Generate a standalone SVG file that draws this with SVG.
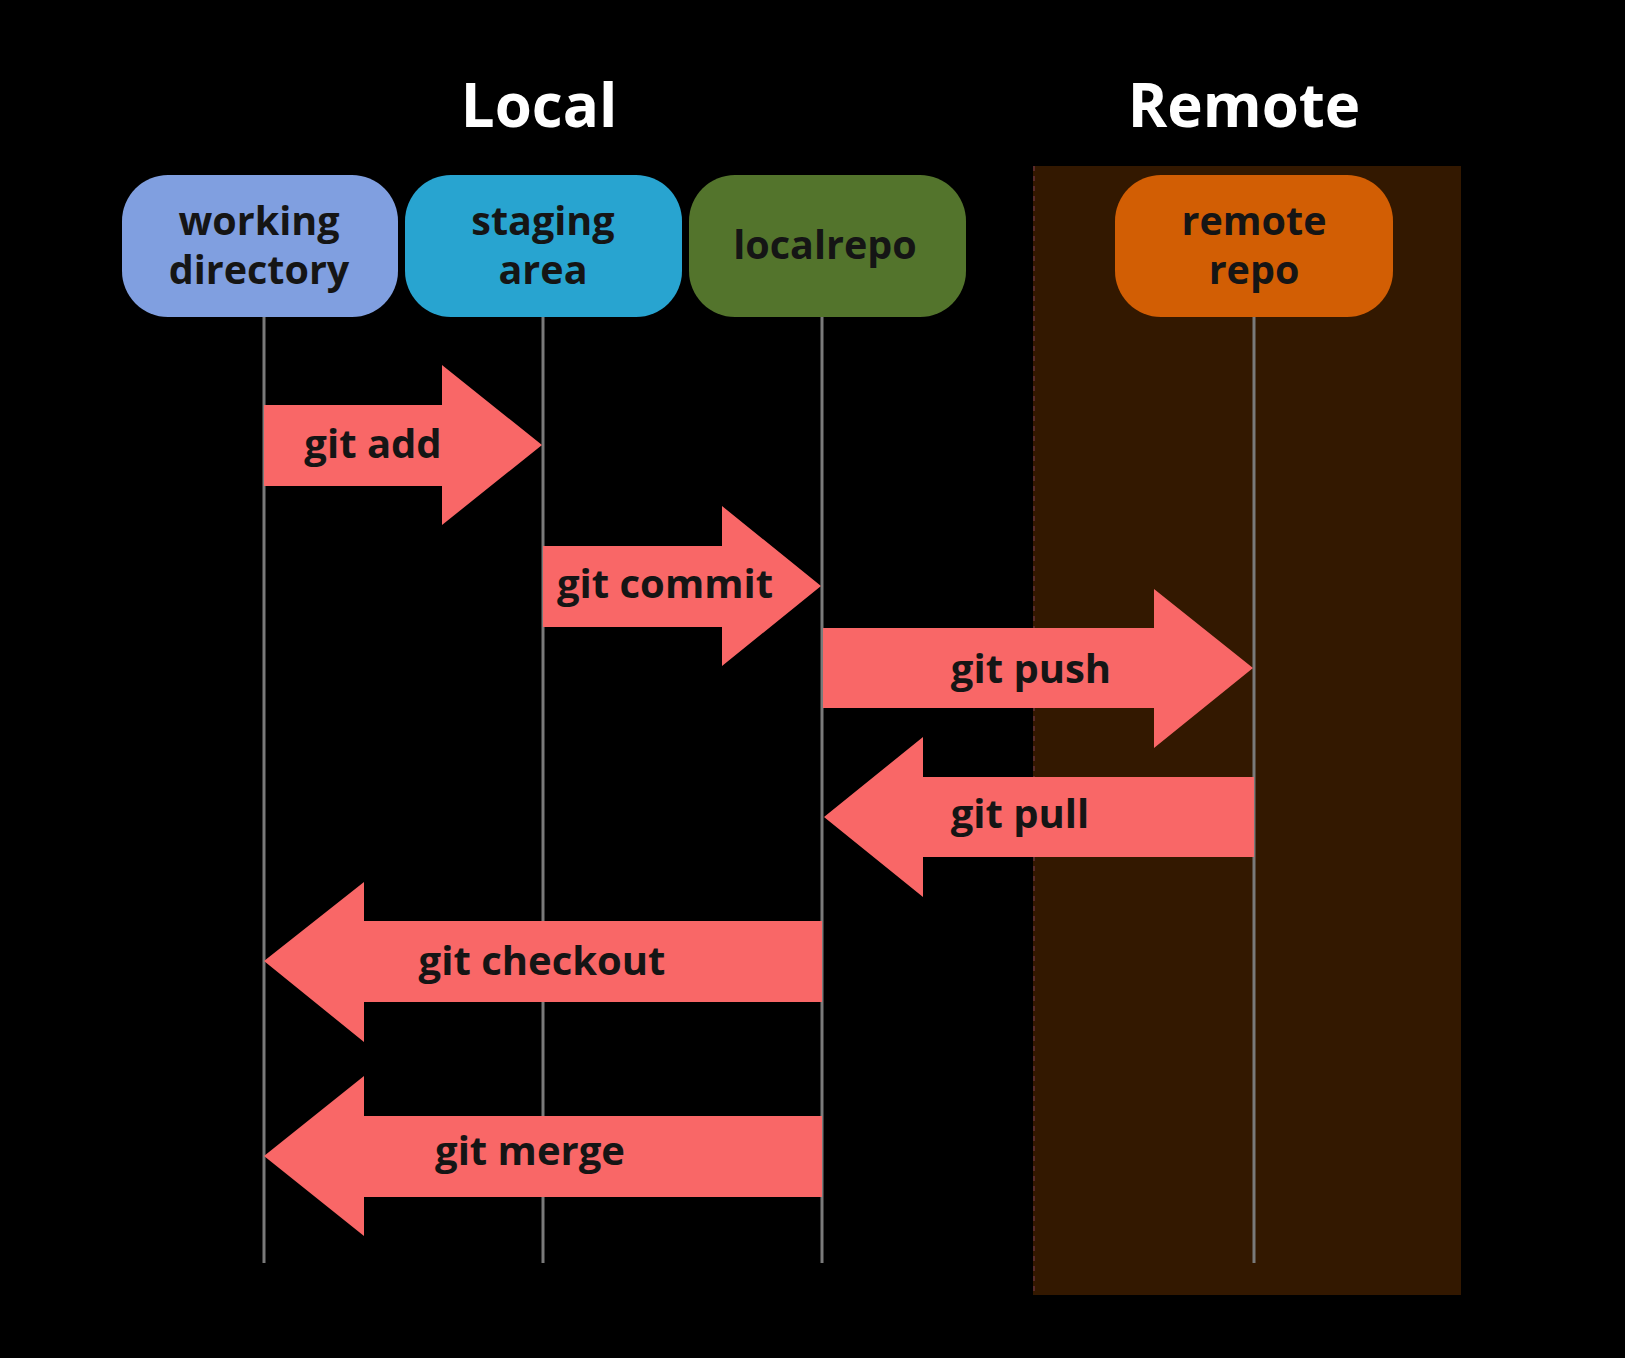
<svg xmlns="http://www.w3.org/2000/svg" width="1625" height="1358" viewBox="0 0 1625 1358">
  <style>
    .title { font-family: "Open Sans", "Noto Sans", "Liberation Sans", sans-serif; font-weight: 700; font-size: 60px; fill: #ffffff; text-anchor: middle; }
    .ntext { font-family: "Open Sans", "Noto Sans", "Liberation Sans", sans-serif; font-weight: 700; font-size: 39.5px; fill: #151515; text-anchor: middle; }
    .atext { font-family: "Open Sans", "Noto Sans", "Liberation Sans", sans-serif; font-weight: 700; font-size: 40px; fill: #151515; text-anchor: middle; }
    .life { stroke: #7a7a7a; stroke-width: 3; fill: none; }
    .arrow { fill: #F96767; }
  </style>
  <rect x="0" y="0" width="1625" height="1358" fill="#000000"/>

  <g id="remote-area">
    <rect x="1033" y="166" width="428" height="1129" fill="#331800"/>
    <line x1="1034" y1="166" x2="1034" y2="1295" stroke="#5a2a2a" stroke-width="2" stroke-dasharray="5,5"/>
  </g>

  <g id="titles">
    <text class="title" x="539" y="127">Local</text>
    <text class="title" x="1244" y="127">Remote</text>
  </g>

  <g id="connectors">
    <line class="life" x1="264" y1="316" x2="264" y2="1263"/>
    <line class="life" x1="543" y1="316" x2="543" y2="1263"/>
    <line class="life" x1="822" y1="316" x2="822" y2="1263"/>
    <line class="life" x1="1254" y1="316" x2="1254" y2="1263"/>

    <g id="git-add">
      <polygon class="arrow" points="264,405 442,405 442,365 542,445 442,525 442,486 264,486"/>
      <text class="atext" x="373" y="458">git add</text>
    </g>
    <g id="git-commit">
      <polygon class="arrow" points="543,546 722,546 722,506 821,586 722,666 722,627 543,627"/>
      <text class="atext" x="665" y="598">git commit</text>
    </g>
    <g id="git-push">
      <polygon class="arrow" points="823,628 1154,628 1154,589 1253,668 1154,748 1154,708 823,708"/>
      <text class="atext" x="1031" y="683">git push</text>
    </g>
    <g id="git-pull">
      <polygon class="arrow" points="1254,777 923,777 923,737 824,817 923,897 923,857 1254,857"/>
      <text class="atext" x="1020" y="828">git pull</text>
    </g>
    <g id="git-checkout">
      <polygon class="arrow" points="822,921 364,921 364,882 264,961 364,1042 364,1002 822,1002"/>
      <text class="atext" x="542" y="975">git checkout</text>
    </g>
    <g id="git-merge">
      <polygon class="arrow" points="822,1116 364,1116 364,1076 264,1156 364,1236 364,1197 822,1197"/>
      <text class="atext" x="530" y="1165">git merge</text>
    </g>
  </g>

  <g id="working-directory">
    <rect x="122" y="175" width="276" height="142" rx="46" ry="46" fill="#809FE0"/>
    <text class="ntext" x="259" y="235">working</text>
    <text class="ntext" x="259" y="284">directory</text>
  </g>
  <g id="staging-area">
    <rect x="405" y="175" width="277" height="142" rx="46" ry="46" fill="#28A4D0"/>
    <text class="ntext" x="543" y="235">staging</text>
    <text class="ntext" x="543" y="284">area</text>
  </g>
  <g id="localrepo">
    <rect x="689" y="175" width="277" height="142" rx="46" ry="46" fill="#53742C"/>
    <text class="ntext" x="825" y="259">localrepo</text>
  </g>
  <g id="remote-repo">
    <rect x="1115" y="175" width="278" height="142" rx="46" ry="46" fill="#D25E04"/>
    <text class="ntext" x="1254" y="235">remote</text>
    <text class="ntext" x="1254" y="284">repo</text>
  </g>
</svg>
